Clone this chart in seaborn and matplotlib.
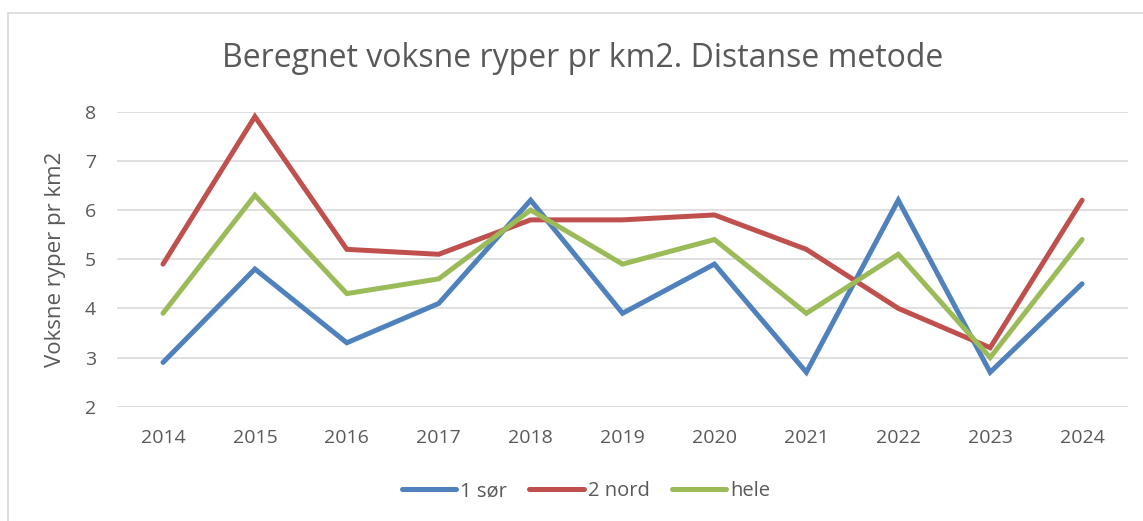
import matplotlib
matplotlib.use('Agg')
import matplotlib.pyplot as plt
from matplotlib.patches import Rectangle
import seaborn as sns
import pandas as pd

years = ['2014', '2015', '2016', '2017', '2018', '2019', '2020', '2021', '2022', '2023', '2024']
sor = [2.9, 4.8, 3.3, 4.1, 6.2, 3.9, 4.9, 2.7, 6.2, 2.7, 4.5]
nord = [4.9, 7.9, 5.2, 5.1, 5.8, 5.8, 5.9, 5.2, 4.0, 3.2, 6.2]
hele = [3.9, 6.3, 4.3, 4.6, 6.0, 4.9, 5.4, 3.9, 5.1, 3.0, 5.4]
series = ['1 sør', '2 nord', 'hele']
colors = ['#4F81BD', '#C0504D', '#9BBB59']

df = pd.DataFrame({'år': years * 3,
                   'verdi': sor + nord + hele,
                   'område': [s for s in series for _ in years]})

sns.set_style('white')
plt.rcParams['font.family'] = ['Open Sans', 'DejaVu Sans']
text_col = '#595959'

fig = plt.figure(figsize=(11.43, 5.21), dpi=100)
ax = fig.add_axes([0.1024, 0.2194, 0.8845, 0.5662])

sns.lineplot(data=df, x='år', y='verdi', hue='område', palette=colors,
             linewidth=3.6, sort=False, ax=ax, legend=False)
for ln in ax.lines:
    ln.set_solid_capstyle('round')
    ln.set_solid_joinstyle('miter')

ax.set_xlim(-0.5, len(years) - 0.5)
ax.set_ylim(2, 8)
ax.set_yticks(range(2, 9))
ax.yaxis.grid(True, color='#d9d9d9', linewidth=1.2)
ax.set_axisbelow(True)
for s in ax.spines.values():
    s.set_visible(False)
ax.tick_params(axis='both', length=0, labelsize=14, labelcolor=text_col)
ax.tick_params(axis='x', pad=16)
ax.tick_params(axis='y', pad=15)
ax.set_xlabel('')
ax.set_ylabel('Voksne ryper pr km2', fontsize=16, color=text_col, labelpad=14)

fig.text(0.5096, 0.888, 'Beregnet voksne ryper pr km2. Distanse metode',
         ha='center', va='center', fontsize=23, color=text_col)

handles = [plt.Line2D([0], [0], color=c, linewidth=3.6, solid_capstyle='round') for c in colors]
fig.legend(handles, series, loc='center', bbox_to_anchor=(0.5127, 0.057), ncol=3,
           frameon=False, fontsize=14.5, handlelength=2.7, columnspacing=1.1,
           handletextpad=0.2, labelcolor=text_col)

fig.add_artist(Rectangle((8 / 1143, -0.1), 1.2, 1 - 13 / 521 + 0.1,
                         transform=fig.transFigure, fill=False,
                         edgecolor='#d9d9d9', linewidth=1.2))

fig.savefig('out.png', dpi=100)
